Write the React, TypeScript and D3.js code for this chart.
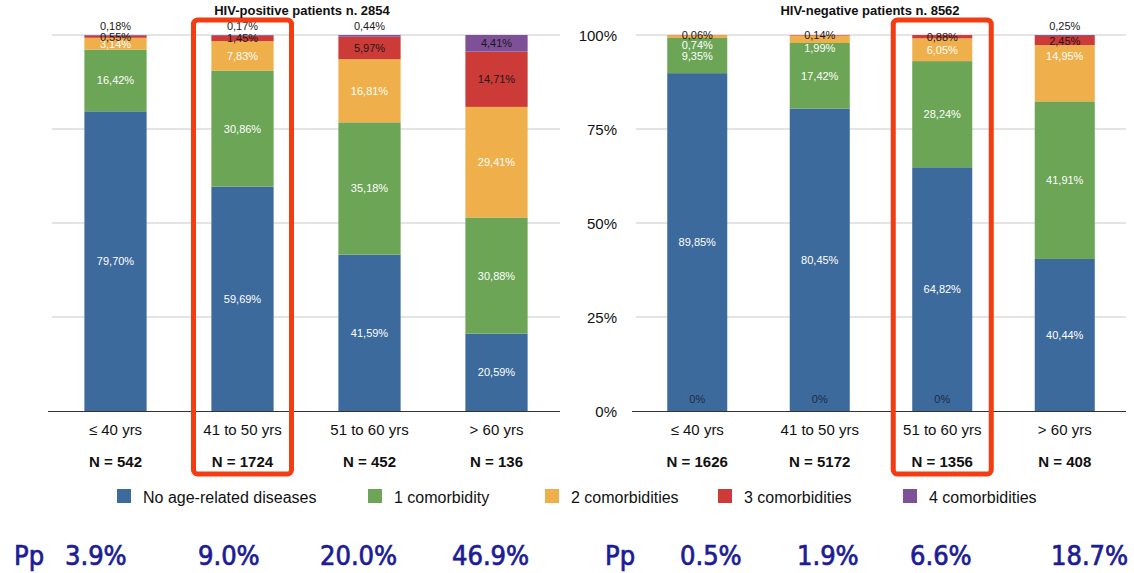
import React from "react";
import * as d3 from "d3";

const categories = ["≤ 40 yrs", "41 to 50 yrs", "51 to 60 yrs", "> 60 yrs"];
const seriesNames = [
  "No age-related diseases",
  "1 comorbidity",
  "2 comorbidities",
  "3 comorbidities",
  "4 comorbidities",
];
const seriesColors = ["#3d6a9c", "#6ba555", "#efb04b", "#cc3b37", "#7d5098"];

const hivPosNone = [79.7, 59.69, 41.59, 20.59];
const hivPos1 = [16.42, 30.86, 35.18, 30.88];
const hivPos2 = [3.14, 7.83, 16.81, 29.41];
const hivPos3 = [0.55, 1.45, 5.97, 14.71];
const hivPos4 = [0.18, 0.17, 0.44, 4.41];

const hivNegNone = [89.85, 80.45, 64.82, 40.44];
const hivNeg1 = [9.35, 17.42, 28.24, 41.91];
const hivNeg2 = [0.74, 1.99, 6.05, 14.95];
const hivNeg3 = [0.06, 0.14, 0.88, 2.45];
const hivNeg4 = [0, 0, 0, 0.25];

const hivPosN = [542, 1724, 452, 136];
const hivNegN = [1626, 5172, 1356, 408];

const ppPos = ["3.9%", "9.0%", "20.0%", "46.9%"];
const ppNeg = ["0.5%", "1.9%", "6.6%", "18.7%"];

const yTicks = [0, 25, 50, 75, 100];

const W = 1134;
const H = 573;
const FONT = "'Liberation Sans', Arial, Helvetica, sans-serif";
const PPFONT = "'DejaVu Sans Condensed', 'DejaVu Sans', sans-serif";

type Panel = {
  id: string;
  title: string;
  titleX: number;
  x0: number;
  x1: number;
  series: number[][];
  ns: number[];
  showY: boolean;
  highlight: number;
  pp: string[];
  ppX: number[];
  ppLabelX: number;
  labelDy: Record<string, number>;
};

const panels: Panel[] = [
  {
    id: "pos",
    title: "HIV-positive patients n. 2854",
    titleX: 302,
    x0: 52,
    x1: 560,
    series: [hivPosNone, hivPos1, hivPos2, hivPos3, hivPos4],
    ns: hivPosN,
    showY: false,
    highlight: 1,
    pp: ppPos,
    ppX: [65, 198, 320, 452],
    ppLabelX: 14,
    labelDy: {},
  },
  {
    id: "neg",
    title: "HIV-negative patients n. 8562",
    titleX: 870,
    x0: 636,
    x1: 1126,
    series: [hivNegNone, hivNeg1, hivNeg2, hivNeg3, hivNeg4],
    ns: hivNegN,
    showY: true,
    highlight: 2,
    pp: ppNeg,
    ppX: [680, 797, 910, 1051],
    ppLabelX: 605,
    labelDy: { "0-2": 8, "1-2": 9, "3-2": -17 },
  },
];

const yTop = 35;
const yBottom = 411;

function fmt(v: number) {
  if (v === 0) return "0%";
  return v.toFixed(2).replace(".", ",") + "%";
}

function PanelView({ p }: { p: Panel }) {
  const x = d3
    .scaleBand<string>()
    .domain(categories)
    .range([p.x0, p.x1])
    .paddingInner(0.51)
    .paddingOuter(0.255);
  const y = d3.scaleLinear().domain([0, 100]).range([yBottom, yTop]);

  const rows = categories.map((c, i) => {
    const o: Record<string, number | string> = { cat: c };
    seriesNames.forEach((s, k) => (o[s] = p.series[k][i]));
    return o;
  });
  const stacked = d3.stack<any>().keys(seriesNames)(rows as any);
  const bw = x.bandwidth();

  const hc = (x(categories[p.highlight]) as number) + bw / 2;

  return (
    <g>
      {yTicks
        .filter((t) => t > 0)
        .map((t) => (
          <line
            key={t}
            x1={p.x0}
            x2={p.x1}
            y1={y(t)}
            y2={y(t)}
            stroke="#c9c9c9"
            strokeWidth={1}
          />
        ))}
      {p.showY &&
        yTicks.map((t) => (
          <text
            key={"yl" + t}
            x={617}
            y={y(t)}
            textAnchor="end"
            dominantBaseline="central"
            fontFamily={FONT}
            fontSize={15}
            fill="#111"
          >
            {t}%
          </text>
        ))}
      {stacked.map((layer, k) =>
        layer.map((d, i) => (
          <rect
            key={k + "-" + i}
            x={x(categories[i])}
            y={y(d[1])}
            width={bw}
            height={Math.max(0, y(d[0]) - y(d[1]))}
            fill={seriesColors[k]}
          />
        ))
      )}
      <line
        x1={p.x0 - 4}
        x2={p.x1}
        y1={yBottom + 0.5}
        y2={yBottom + 0.5}
        stroke="#333"
        strokeWidth={1}
      />
      {stacked.map((layer, k) =>
        layer.map((d, i) => {
          const v = p.series[k][i];
          const cx = (x(categories[i]) as number) + bw / 2;
          let cy = (y(d[0]) + y(d[1])) / 2;
          let fill = k <= 2 ? "#ffffff" : "#1a1a1a";
          if (v === 0) {
            cy = y(0) - 12;
            fill = "#1e2a44";
          } else if (k === 4 && v < 1) {
            cy = y(100) - 9;
            fill = "#1a1a1a";
          }
          const dy = p.labelDy[i + "-" + k] || 0;
          return (
            <text
              key={"l" + k + "-" + i}
              x={cx}
              y={cy + dy}
              textAnchor="middle"
              dominantBaseline="central"
              fontFamily={FONT}
              fontSize={11}
              fill={fill}
            >
              {fmt(v)}
            </text>
          );
        })
      )}
      {categories.map((c, i) => (
        <g key={"c" + i}>
          <text
            x={(x(c) as number) + bw / 2}
            y={429}
            textAnchor="middle"
            dominantBaseline="central"
            fontFamily={FONT}
            fontSize={15}
            fill="#111"
          >
            {c}
          </text>
          <text
            x={(x(c) as number) + bw / 2}
            y={461}
            textAnchor="middle"
            dominantBaseline="central"
            fontFamily={FONT}
            fontWeight="bold"
            fontSize={15}
            fill="#111"
          >
            N = {p.ns[i]}
          </text>
        </g>
      ))}
      <rect
        x={hc - 49}
        y={20}
        width={98}
        height={454}
        rx={4}
        fill="none"
        stroke="#f43c12"
        strokeWidth={5}
      />
      <text
        x={p.titleX}
        y={10}
        textAnchor="middle"
        dominantBaseline="central"
        fontFamily={FONT}
        fontWeight="bold"
        fontSize={13}
        fill="#111"
      >
        {p.title}
      </text>
      <text
        x={p.ppLabelX}
        y={565}
        fontFamily={PPFONT}
        fontSize={27}
        fill="#1c1c96"
        stroke="#1c1c96"
        strokeWidth={0.7}
      >
        Pp
      </text>
      {p.pp.map((s, i) => (
        <text
          key={"pp" + i}
          x={p.ppX[i]}
          y={565}
          fontFamily={PPFONT}
          fontSize={27}
          fill="#1c1c96"
          stroke="#1c1c96"
          strokeWidth={0.7}
        >
          {s}
        </text>
      ))}
    </g>
  );
}

const legendX = [117, 368, 545, 718, 903];

export default function App() {
  return (
    <svg
      width={W}
      height={H}
      style={{ position: "absolute", left: 0, top: 0, background: "#fff" }}
    >
      <rect width={W} height={H} fill="#fff" />
      {panels.map((p) => (
        <PanelView key={p.id} p={p} />
      ))}
      {seriesNames.map((s, k) => (
        <g key={"lg" + k}>
          <rect
            x={legendX[k]}
            y={489}
            width={14}
            height={14}
            fill={seriesColors[k]}
          />
          <text
            x={legendX[k] + 26}
            y={497}
            dominantBaseline="central"
            fontFamily={FONT}
            fontSize={16}
            fill="#111"
          >
            {s}
          </text>
        </g>
      ))}
    </svg>
  );
}
